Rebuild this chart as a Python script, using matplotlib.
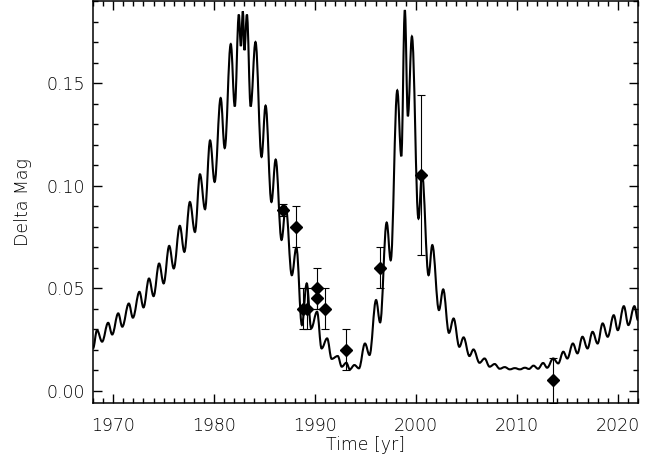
import matplotlib
matplotlib.use('Agg')
import matplotlib.pyplot as plt
from matplotlib.path import Path
from matplotlib.patches import PathPatch
from matplotlib.ticker import MultipleLocator, FormatStrFormatter

# model light curve, turning points (year, delta mag)
curve_year = [1968.0, 1968.4, 1968.9, 1969.5, 1969.9, 1970.5, 1970.9, 1971.55, 1971.95,
              1972.6, 1973.0, 1973.55, 1974.0, 1974.55, 1975.0, 1975.55, 1976.0, 1976.6,
              1977.05, 1977.6, 1978.1, 1978.6, 1979.1, 1979.6, 1980.05, 1980.65, 1981.05,
              1981.65, 1982.05, 1982.45, 1982.65, 1982.85, 1983.0, 1983.25, 1983.62, 1984.1,
              1984.7, 1985.1, 1985.68, 1986.1, 1986.68, 1987.1, 1987.7, 1988.15, 1988.7,
              1989.18, 1989.62, 1990.2, 1990.65, 1991.2, 1991.65, 1992.25, 1992.65, 1993.1,
              1993.45, 1993.9, 1994.35, 1994.95, 1995.4, 1996.05, 1996.45, 1997.1, 1997.5,
              1998.15, 1998.55, 1998.9, 1999.2, 1999.6, 2000.25, 2000.6, 2001.25, 2001.62,
              2002.28, 2002.7, 2003.27, 2003.73, 2004.3, 2004.72, 2005.3, 2005.7, 2006.3,
              2006.8, 2007.3, 2007.8, 2008.3, 2008.8, 2009.3, 2009.8, 2010.3, 2010.8,
              2011.2, 2011.65, 2012.1, 2012.6, 2013.0, 2013.6, 2014.1, 2014.6, 2015.0,
              2015.55, 2016.0, 2016.5, 2017.0, 2017.5, 2018.0, 2018.5, 2019.0, 2019.6,
              2020.0, 2020.6, 2021.05, 2021.65, 2022.0]
curve_mag = [0.0206, 0.0295, 0.0239, 0.0331, 0.0274, 0.0377, 0.0312, 0.0425, 0.0356,
             0.0482, 0.0406, 0.0547, 0.0461, 0.0620, 0.0523, 0.0706, 0.0596, 0.0804,
             0.0677, 0.0920, 0.0774, 0.1055, 0.0885, 0.1220, 0.1018, 0.1427, 0.1183,
             0.1690, 0.1386, 0.1834, 0.1680, 0.1850, 0.1660, 0.1834, 0.1386, 0.1700,
             0.1140, 0.1390, 0.0920, 0.1127, 0.0735, 0.0898, 0.0563, 0.0698, 0.0320,
             0.0523, 0.0304, 0.0385, 0.0206, 0.0255, 0.0155, 0.0169, 0.0117, 0.0136,
             0.0104, 0.0125, 0.0109, 0.0230, 0.0174, 0.0442, 0.0333, 0.0820, 0.0636,
             0.1464, 0.1143, 0.1856, 0.1338, 0.1727, 0.0839, 0.1058, 0.0563, 0.0710,
             0.0393, 0.0494, 0.0282, 0.0352, 0.0214, 0.0260, 0.0169, 0.0201, 0.0136,
             0.0157, 0.0117, 0.0130, 0.0107, 0.0115, 0.0104, 0.0110, 0.0104, 0.0112,
             0.0106, 0.0122, 0.0107, 0.0135, 0.0112, 0.0157, 0.0133, 0.0190, 0.0157,
             0.0230, 0.0182, 0.0263, 0.0206, 0.0287, 0.0230, 0.0328, 0.0263, 0.0368,
             0.0295, 0.0412, 0.0320, 0.0412, 0.0344]

# observed points with errors
obs_year = [1986.85, 1988.1, 1988.82, 1989.25, 1990.15, 1990.15, 1991.0, 1993.1, 1996.4, 2000.55, 2013.57]
obs_mag = [0.088, 0.080, 0.040, 0.040, 0.050, 0.045, 0.040, 0.020, 0.060, 0.105, 0.005]
obs_err = [0.003, 0.010, 0.010, 0.010, 0.010, 0.005, 0.010, 0.010, 0.010, 0.039, 0.011]


def smooth_path(xs, ys, k=0.38):
    # cubic segments with flat tangents at each turning point
    verts = [(xs[0], ys[0])]
    codes = [Path.MOVETO]
    for i in range(1, len(xs)):
        dx = xs[i] - xs[i-1]
        verts += [(xs[i-1] + k*dx, ys[i-1]), (xs[i] - k*dx, ys[i]), (xs[i], ys[i])]
        codes += [Path.CURVE4]*3
    return Path(verts, codes)


plt.rcParams['font.family'] = 'DejaVu Sans'
plt.rcParams['font.weight'] = 'light'
plt.rcParams['axes.labelweight'] = 'light'
fig = plt.figure(figsize=(6.62, 4.63), dpi=100)
ax = fig.add_axes([0.1405, 0.1296, 0.8232, 0.8682])

ax.add_patch(PathPatch(smooth_path(curve_year, curve_mag), facecolor='none',
                       edgecolor='black', lw=1.5, transform=ax.transData))
ax.errorbar(obs_year, obs_mag, yerr=obs_err, fmt='D', color='black', ms=6.2,
            elinewidth=0.8, capsize=3, capthick=0.8)

ax.set_xlim(1968, 2022)
ax.set_ylim(-0.006, 0.19)
ax.xaxis.set_major_locator(MultipleLocator(10))
ax.xaxis.set_minor_locator(MultipleLocator(1))
ax.yaxis.set_major_locator(MultipleLocator(0.05))
ax.yaxis.set_minor_locator(MultipleLocator(0.01))
ax.yaxis.set_major_formatter(FormatStrFormatter('%.2f'))

ax.tick_params(which='both', direction='in', top=True, right=True, width=1.0)
ax.tick_params(which='major', length=6.5, labelsize=12.5)
ax.tick_params(which='minor', length=3.6)
ax.tick_params(axis='x', pad=10)
ax.tick_params(axis='y', pad=6)
for s in ax.spines.values():
    s.set_linewidth(1.1)

ax.set_xlabel('Time [yr]', fontsize=12.5, labelpad=1)
ax.set_ylabel('Delta Mag', fontsize=12.5, labelpad=10)

plt.savefig('out.png', dpi=100)
